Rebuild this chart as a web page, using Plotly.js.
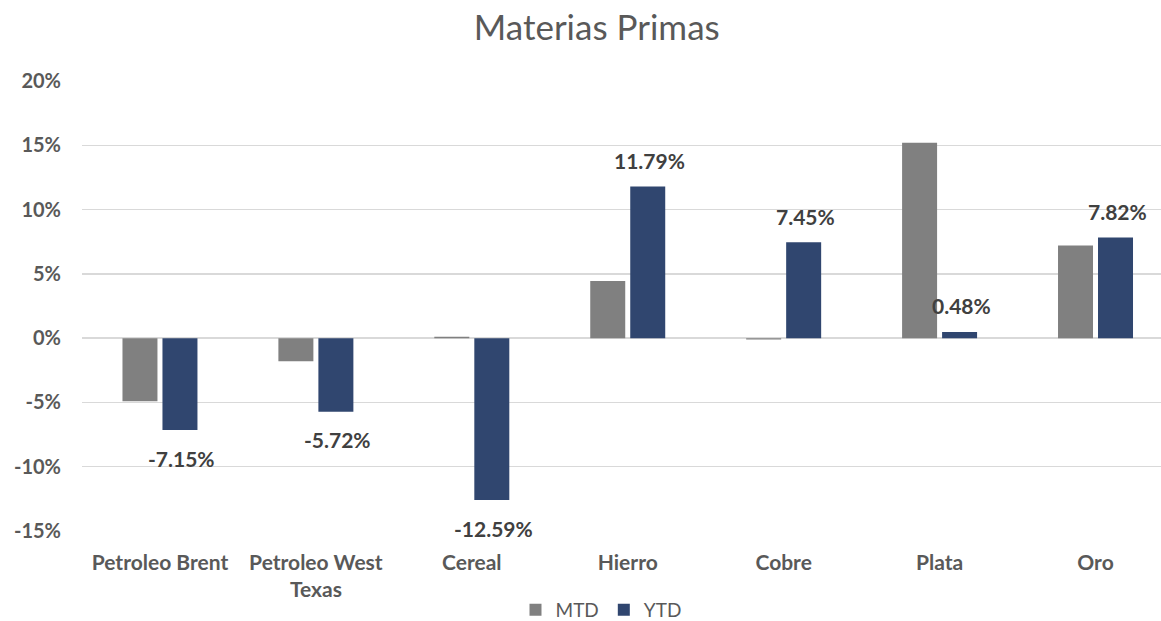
<!DOCTYPE html>
<html>
<head>
<meta charset="utf-8">
<script src="https://cdn.plot.ly/plotly-3.0.1.min.js"></script>
<style>
  html, body { margin: 0; padding: 0; background: #fff; }
  #chart { width: 1161px; height: 621px; }
</style>
</head>
<body>
<div id="chart"></div>
<script>
// Commodity returns: month-to-date and year-to-date, in percent
const categories = ["Petroleo Brent", "Petroleo West Texas", "Cereal", "Hierro", "Cobre", "Plata", "Oro"];
const tickLabels = ["Petroleo Brent", "Petroleo West<br>Texas", "Cereal", "Hierro", "Cobre", "Plata", "Oro"];
const mtd = [-4.9, -1.8, 0.1, 4.45, -0.1, 15.2, 7.2];
const ytd = [-7.15, -5.72, -12.59, 11.79, 7.45, 0.48, 7.82];
const yTicks = [-15, -10, -5, 0, 5, 10, 15, 20];

const FONT = "Lato, 'Open Sans', sans-serif";
const GREY_TEXT = "#595959";

const traces = [
  {
    type: "bar", name: "MTD", x: tickLabels, y: mtd,
    marker: { color: "#808080" },
    hoverinfo: "skip"
  },
  {
    type: "bar", name: "YTD", x: tickLabels, y: ytd,
    marker: { color: "#30466f" },
    hoverinfo: "skip"
  }
];

// Value labels above/below each YTD bar
const annotations = ytd.map((v, i) => ({
  x: tickLabels[i], y: v, xref: "x", yref: "y",
  text: v.toFixed(2) + "%",
  showarrow: false,
  xshift: 22,
  yshift: v >= 0 ? 26 : -28,
  font: { family: FONT, size: 21, color: "#404040", weight: "bold" }
}));

const layout = {
  width: 1161, height: 621,
  paper_bgcolor: "#fff", plot_bgcolor: "#fff",
  margin: { l: 82, r: 0, t: 81, b: 90, autoexpand: false },
  title: {
    text: "Materias Primas",
    x: 0.514, xanchor: "center", xref: "container",
    y: 0.955, yanchor: "middle",
    font: { family: FONT, size: 35, color: GREY_TEXT }
  },
  barmode: "group",
  bargap: 0.487,
  bargroupgap: 0.125,
  xaxis: {
    type: "category",
    range: [-0.5, 6.42],
    showgrid: false, zeroline: false, showline: false,
    ticks: "",
    ticklabelstandoff: 17,
    tickfont: { family: FONT, size: 21, color: GREY_TEXT, weight: "bold" },
    automargin: false
  },
  yaxis: {
    range: [-15, 20],
    tickvals: yTicks,
    ticktext: yTicks.map(v => v + "%"),
    showgrid: true, gridcolor: "#d9d9d9", gridwidth: 1.5,
    zeroline: true, zerolinecolor: "#d9d9d9", zerolinewidth: 1.5,
    showline: false, ticks: "",
    ticklabelstandoff: 20,
    tickfont: { family: FONT, size: 20, color: GREY_TEXT, weight: "bold" },
    automargin: false
  },
  showlegend: true,
  legend: {
    orientation: "h",
    x: 0.481, xanchor: "center",
    yref: "container",
    y: 0.018, yanchor: "middle",
    font: { family: FONT, size: 19, color: GREY_TEXT },
    itemwidth: 30,
    traceorder: "normal"
  },
  annotations: annotations
};

Plotly.newPlot("chart", traces, layout, { displayModeBar: false, staticPlot: true });
</script>
</body>
</html>
